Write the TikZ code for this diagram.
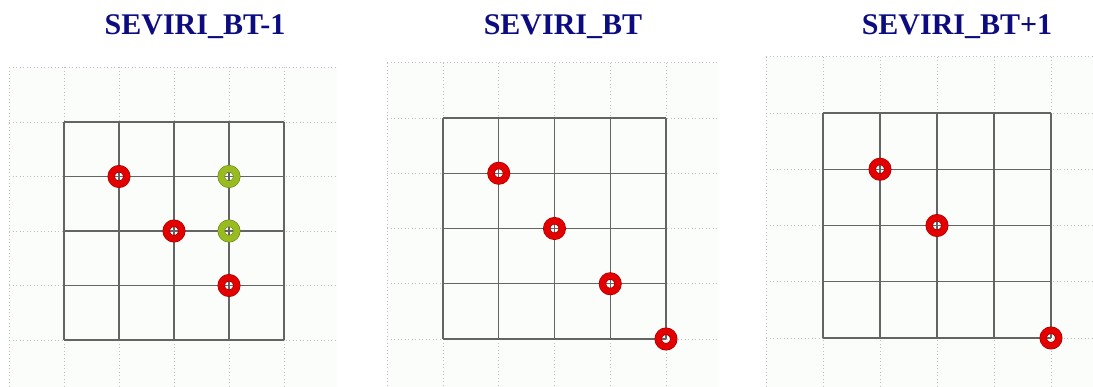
\documentclass[tikz,border=0pt]{standalone}
\usepackage{fontspec}
\setmainfont{Liberation Serif}
\usepackage{xcolor}
\definecolor{titleblue}{RGB}{12,12,128}
\definecolor{ringred}{RGB}{226,0,0}
\definecolor{ringgreen}{RGB}{152,188,32}
\definecolor{gridgray}{RGB}{100,100,100}
\definecolor{dotgray}{RGB}{190,192,190}
\definecolor{bgfill}{RGB}{251,253,251}

\begin{document}
\begin{tikzpicture}[x=1pt, y=-1pt,
    paneltitle/.style={text=titleblue, font=\fontsize{30}{36}\selectfont\bfseries, inner sep=0pt, anchor=base},
    maingrid/.style={draw=gridgray, line width=1.2pt},
    bggrid/.style={draw=dotgray, line width=0.8pt, dash pattern=on 1pt off 2.5pt},
    ring/.style={circle, inner sep=0pt, minimum size=15.5pt, draw=#1!70!black,
                 double=#1, double distance=6.2pt, line width=0.6pt}]
  \useasboundingbox (0,0) rectangle (1093,387);
  \clip (0,0) rectangle (1093,387);

  % titles
  \node[paneltitle] (tprev) at (195,35) {SEVIRI\_BT-1};
  \node[paneltitle] (tnow)  at (563,35) {SEVIRI\_BT};
  \node[paneltitle] (tnext) at (957,35) {SEVIRI\_BT+1};

  % panel 1
  \begin{scope}[xshift=64pt, yshift=-122pt, x=55pt, y=-54.5pt]
    \fill[bgfill] (-1,-1) rectangle (4.96,5.2);
    \foreach \i in {-1,...,4} {
      \draw[bggrid] (\i,-1) -- (\i,5.2);
      \draw[bggrid] (-1,\i) -- (4.96,\i);
    }
    \foreach \i in {0,...,4} {
      \draw[maingrid] (\i,0) -- (\i,4);
      \draw[maingrid] (0,\i) -- (4,\i);
    }
    \node[ring=ringred] (pa) at (1,1) {};
    \node[ring=ringred] (pb) at (2,2) {};
    \node[ring=ringred] (pc) at (3,3) {};
    \node[ring=ringgreen] (pd) at (3,1) {};
    \node[ring=ringgreen] (pe) at (3,2) {};
  \end{scope}

  % panel 2
  \begin{scope}[xshift=443pt, yshift=-118pt, x=55.75pt, y=-55.25pt]
    \fill[bgfill] (-1,-1) rectangle (4.93,5.2);
    \foreach \i in {-1,...,4} {
      \draw[bggrid] (\i,-1) -- (\i,5.2);
      \draw[bggrid] (-1,\i) -- (4.93,\i);
    }
    \foreach \i in {0,...,4} {
      \draw[maingrid] (\i,0) -- (\i,4);
      \draw[maingrid] (0,\i) -- (4,\i);
    }
    \node[ring=ringred] (na) at (1,1) {};
    \node[ring=ringred] (nb) at (2,2) {};
    \node[ring=ringred] (nc) at (3,3) {};
    \node[ring=ringred] (nd) at (4,4) {};
  \end{scope}

  % panel 3
  \begin{scope}[xshift=823pt, yshift=-113pt, x=57pt, y=-56.25pt]
    \fill[bgfill] (-1,-1) rectangle (4.8,5.2);
    \foreach \i in {-1,...,4} {
      \draw[bggrid] (\i,-1) -- (\i,5.2);
      \draw[bggrid] (-1,\i) -- (4.8,\i);
    }
    \foreach \i in {0,...,4} {
      \draw[maingrid] (\i,0) -- (\i,4);
      \draw[maingrid] (0,\i) -- (4,\i);
    }
    \node[ring=ringred] (fa) at (1,1) {};
    \node[ring=ringred] (fb) at (2,2) {};
    \node[ring=ringred] (fc) at (4,4) {};
  \end{scope}
\end{tikzpicture}
\end{document}
